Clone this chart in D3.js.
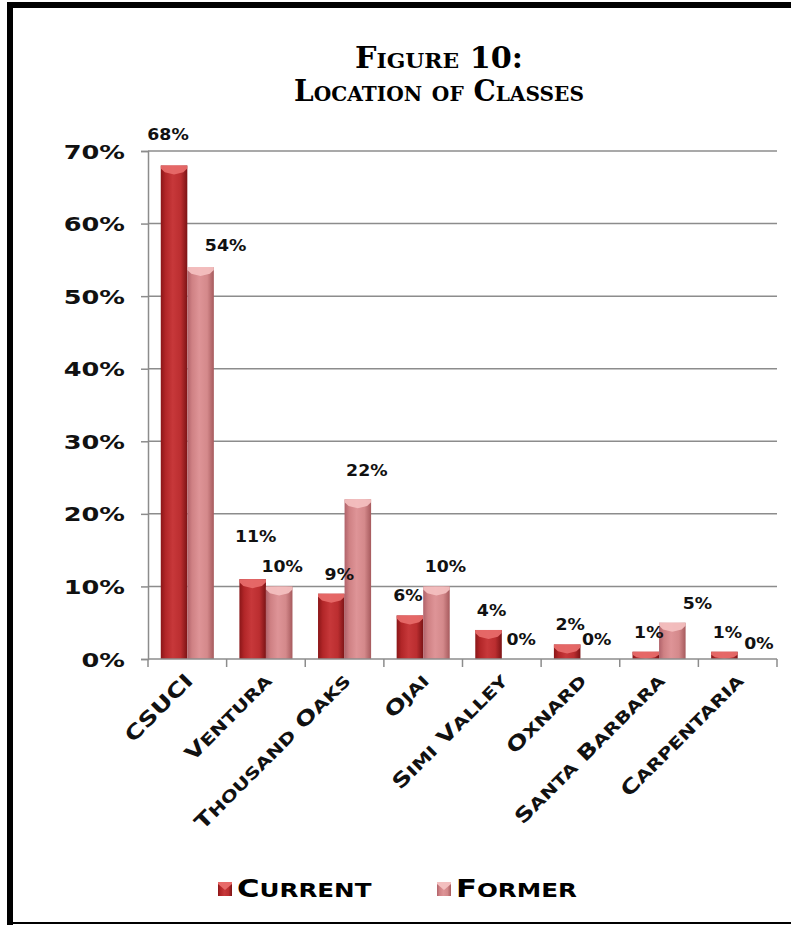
<!DOCTYPE html>
<html>
<head>
<meta charset="utf-8">
<script src="https://cdn.jsdelivr.net/npm/d3@7"></script>
<style>
  html, body { margin: 0; padding: 0; background: #fff; }
  svg { display: block; }
</style>
</head>
<body>
<svg id="chart" width="791" height="925"></svg>
<script>
// ---------- data ----------
const titleLines = ["Figure 10:", "Location of Classes"];
const categories = ["CSUCI", "Ventura", "Thousand Oaks", "Ojai", "Simi Valley", "Oxnard", "Santa Barbara", "Carpentaria"];
const seriesNames = ["Current", "Former"];
const currentValues = [0.68, 0.11, 0.09, 0.06, 0.04, 0.02, 0.01, 0.01];
const formerValues  = [0.54, 0.10, 0.22, 0.10, 0.00, 0.00, 0.05, 0.00];
const yTicks = [0, 0.1, 0.2, 0.3, 0.4, 0.5, 0.6, 0.7];

// ---------- setup ----------
const svg = d3.select("#chart");
const W = 791, H = 925;
const plot = { left: 148, right: 777, top: 151, bottom: 659 };
const STRETCH = 1.28;
const SANS = "'DejaVu Sans', sans-serif";
const SERIF = "'DejaVu Serif', serif";

const valuesBySeries = { Current: currentValues, Former: formerValues };

const x0 = d3.scaleBand().domain(categories).range([plot.left, plot.right])
  .paddingInner(0.325).paddingOuter(0.1625);
const x1 = d3.scaleBand().domain(seriesNames).range([0, x0.bandwidth()]).padding(0);
const y = d3.scaleLinear().domain([0, 0.7]).range([plot.bottom, plot.top]);

// small-caps helper: uppercase/digit chars full size, lowercase -> uppercase small
function capsText(textSel, str, size, ratio) {
  const chunks = [];
  for (const ch of str) {
    const small = ch !== ch.toUpperCase();
    const sz = small ? size * ratio : size;
    const c = ch.toUpperCase();
    if (chunks.length && chunks[chunks.length - 1].sz === sz) chunks[chunks.length - 1].t += c;
    else chunks.push({ sz, t: c });
  }
  chunks.forEach(k => textSel.append("tspan").attr("font-size", k.sz).text(k.t));
  return textSel;
}

// ---------- frame ----------
svg.append("rect").attr("x", 7).attr("y", 2).attr("width", W - 7).attr("height", 6).attr("fill", "#000");
svg.append("rect").attr("x", 7).attr("y", 2).attr("width", 6).attr("height", H - 2).attr("fill", "#000");
svg.append("rect").attr("x", 7).attr("y", 922).attr("width", W - 7).attr("height", 2).attr("fill", "#000");

// ---------- defs ----------
const defs = svg.append("defs");
function hGrad(id, stops) {
  const g = defs.append("linearGradient").attr("id", id).attr("x1", "0").attr("x2", "1").attr("y1", "0").attr("y2", "0");
  stops.forEach(([o, c]) => g.append("stop").attr("offset", o).attr("stop-color", c));
}
hGrad("gCurrent", [[0, "#8a1618"], [0.18, "#b22628"], [0.45, "#c7383a"], [0.75, "#bb2e30"], [1, "#7c1315"]]);
hGrad("gFormer",  [[0, "#b0626a"], [0.18, "#cf8184"], [0.45, "#de9497"], [0.75, "#d4898b"], [1, "#a65a5d"]]);
const capColor = { Current: "#e76a69", Former: "#f3bfbf" };
const fillId = { Current: "url(#gCurrent)", Former: "url(#gFormer)" };

// ---------- gridlines ----------
svg.append("g")
  .selectAll("line").data(yTicks.filter(d => d > 0)).join("line")
  .attr("x1", plot.left).attr("x2", plot.right)
  .attr("y1", d => y(d)).attr("y2", d => y(d))
  .attr("stroke", "#8c8c8c").attr("stroke-width", 1.5);

// ---------- y axis ----------
const yAxis = svg.append("g").attr("transform", `translate(${plot.left},0)`)
  .call(d3.axisLeft(y).tickValues(yTicks).tickSize(7).tickFormat(""));
yAxis.select(".domain").attr("stroke", "#8c8c8c").attr("stroke-width", 1.5);
yAxis.selectAll(".tick line").attr("stroke", "#8c8c8c").attr("stroke-width", 1.5);

svg.append("g").selectAll("text").data(yTicks).join("text")
  .attr("transform", d => `translate(${plot.left - 23},${y(d) + 7.5}) scale(${STRETCH},1)`)
  .attr("text-anchor", "end")
  .attr("font-family", SANS).attr("font-weight", "bold").attr("font-size", 20)
  .attr("fill", "#111")
  .text(d => d3.format(".0%")(d));

// ---------- bars ----------
const flat = [];
categories.forEach((c, i) => seriesNames.forEach(s => flat.push({ c, s, v: valuesBySeries[s][i] })));

const barG = svg.append("g");
flat.filter(d => d.v > 0).forEach(d => {
  const bx = x0(d.c) + x1(d.s), bw = x1.bandwidth();
  const top = y(d.v), h = y(0) - y(d.v);
  barG.append("rect").attr("x", bx).attr("y", top).attr("width", bw).attr("height", h)
    .attr("fill", fillId[d.s]);
  const depth = Math.min(9, h);
  const side = Math.min(3, h);
  barG.append("path")
    .attr("d", `M${bx},${top} L${bx + bw},${top} L${bx + bw},${top + side} L${bx + bw - 4},${top + depth * 0.75} L${bx + bw / 2},${top + depth} L${bx + 4},${top + depth * 0.75} L${bx},${top + side} Z`)
    .attr("fill", capColor[d.s]).attr("opacity", 0.95);
});

// ---------- x axis ----------
const step = x0.step();
const bounds = categories.map(c => x0(c) - step * x0.paddingInner() / 2);
bounds.push(x0(categories[categories.length - 1]) + x0.bandwidth() + step * x0.paddingInner() / 2);
svg.append("line").attr("x1", plot.left).attr("x2", bounds[bounds.length - 1])
  .attr("y1", y(0)).attr("y2", y(0)).attr("stroke", "#8c8c8c").attr("stroke-width", 1.5);
svg.append("g").selectAll("line").data(bounds).join("line")
  .attr("x1", d => d).attr("x2", d => d).attr("y1", y(0)).attr("y2", y(0) + 8)
  .attr("stroke", "#8c8c8c").attr("stroke-width", 1.5);

// category labels
categories.forEach(c => {
  const cx = x0(c) + x0.bandwidth() / 2;
  const t = svg.append("text")
    .attr("transform", `translate(${cx + 7},${y(0) + 23}) rotate(-45) scale(${STRETCH},1)`)
    .attr("text-anchor", "end")
    .attr("font-family", SANS).attr("font-weight", "bold").attr("fill", "#111");
  capsText(t, c, 20, 0.8);
});

// ---------- data labels ----------
const nudge = {
  "Current|CSUCI": [-9, -12], "Former|CSUCI": [22, -2],
  "Current|Ventura": [0, -23],
  "Current|Thousand Oaks": [5, 0], "Former|Thousand Oaks": [6, -9],
  "Current|Ojai": [-5, 0], "Former|Ojai": [6, 0],
  "Former|Simi Valley": [3, 0],
  "Former|Santa Barbara": [22, 0],
  "Former|Carpentaria": [5, 4]
};
flat.forEach(d => {
  const cx = x0(d.c) + x1(d.s) + x1.bandwidth() / 2;
  const n = nudge[d.s + "|" + d.c] || [0, 0];
  svg.append("text")
    .attr("transform", `translate(${cx + 3 + n[0]},${y(d.v) - 14 + n[1]}) scale(1.05,1)`)
    .attr("text-anchor", "middle")
    .attr("font-family", SANS).attr("font-weight", "bold").attr("font-size", 16.5)
    .attr("fill", "#111")
    .text(d3.format(".0%")(d.v));
});

// ---------- title ----------
const titleWidths = [168, 290];
titleLines.forEach((line, i) => {
  const t = svg.append("text")
    .attr("text-anchor", "middle")
    .attr("font-family", SERIF).attr("font-weight", "bold").attr("fill", "#000");
  capsText(t, line, 29.5, 0.72);
  const w = t.node().getBBox().width;
  t.attr("transform", `translate(439,${68 + i * 33}) scale(${titleWidths[i] / w},1)`);
});

// ---------- legend ----------
const legendX = { Current: 218, Former: 437 };
seriesNames.forEach(s => {
  const lx = legendX[s];
  svg.append("rect").attr("x", lx).attr("y", 882).attr("width", 14).attr("height", 14).attr("fill", fillId[s]);
  svg.append("path")
    .attr("d", `M${lx},882 L${lx + 14},882 L${lx + 14},884 L${lx + 7},890 L${lx},884 Z`)
    .attr("fill", capColor[s]);
  const t = svg.append("text")
    .attr("transform", `translate(${lx + 19},897) scale(${STRETCH},1)`)
    .attr("font-family", SANS).attr("font-weight", "bold").attr("fill", "#000");
  capsText(t, s, 24, 0.8);
});
</script>
</body>
</html>
